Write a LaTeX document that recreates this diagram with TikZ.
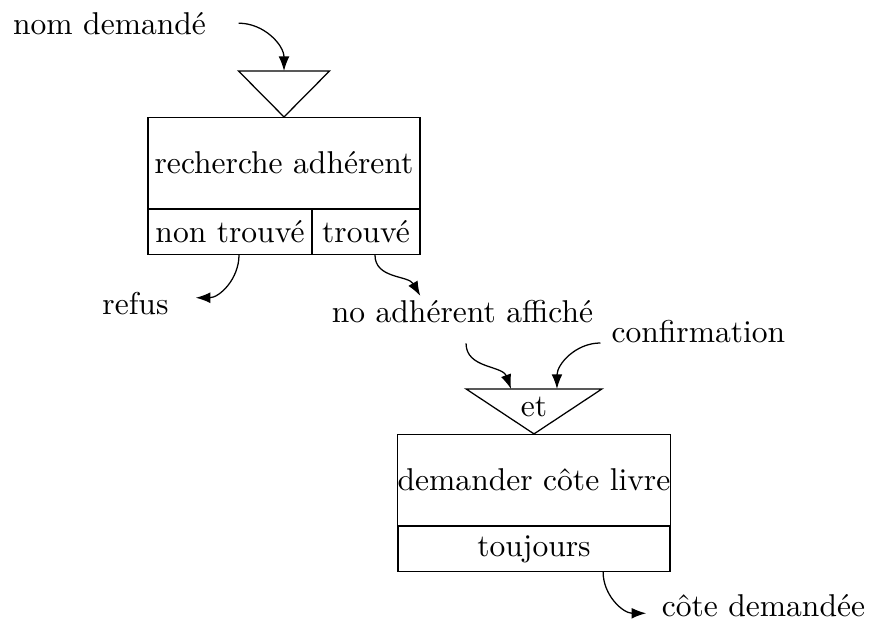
\documentclass[tikz,border=0pt]{standalone}
\usepackage{fontspec}
\usepackage{tikz}
\usetikzlibrary{arrows.meta, positioning}
\tikzstyle{procbox} = [rectangle, draw, minimum width=3.03cm,
                       minimum height=1.01cm, inner xsep=0pt]
\tikzstyle{condbox} = [rectangle, draw, minimum height=0.5cm, inner sep=1pt]
\tikzstyle{msg}     = [anchor=base]
\tikzstyle{arrow}   = [->, >={Latex[length=4.6pt, width=3.4pt]}]

\begin{document}
\begin{tikzpicture}
  \useasboundingbox (0,0) rectangle (9.748,-6.996);

  %% First operation
  \coordinate (tri1) at (3.164,-0.791);
  \node[procbox, below=0.512cm of tri1] (rech) {recherche adh\'erent};
  \node[condbox, minimum width=1.827cm, below=0pt of rech.south west,
        anchor=north west] (ntrouve) {non trouv\'e};
  \node[condbox, minimum width=1.203cm, below=0pt of rech.south east,
        anchor=north east] (trouve) {trouv\'e};
  \draw ([xshift=-0.507cm]tri1) -- ([xshift=0.507cm]tri1) -- (rech.north)
        -- cycle;

  %% Second operation
  \coordinate (tri2) at (5.949,-4.333);
  \node[procbox, below=0.501cm of tri2] (dem) {demander c\^ote livre};
  \node[condbox, minimum width=3.03cm, below=0pt of dem] (touj) {toujours};
  \draw ([xshift=-0.757cm]tri2) -- ([xshift=0.757cm]tri2) -- (dem.north)
        -- cycle;
  \node (et) at ([yshift=-0.2cm]tri2) {et};

  %% Messages
  \node[msg] (nomd)  at (1.220,-0.379) {nom demand\'e};
  \node[msg] (refus) at (1.509,-3.509) {refus};
  \node[msg] (nadh)  at (5.152,-3.598) {no adh\'erent affich\'e};
  \node[msg] (conf)  at (7.781,-3.821) {confirmation};
  \node[msg] (cdem)  at (8.505,-6.873) {c\^ote demand\'ee};

  %% Arrows
  \draw[arrow] ([xshift=0.24cm]nomd.east) to[out=0, in=90] (tri1);
  \draw[arrow] ([xshift=0.1cm]ntrouve.south) to[out=-90, in=0]
        ([xshift=0.18cm, yshift=0.07cm]refus.east);
  \draw[arrow] ([xshift=0.1cm]trouve.south) to[out=-90, in=120]
        ([xshift=-0.47cm, yshift=-0.07cm]nadh.north);
  \draw[arrow] ([xshift=0.04cm, yshift=-0.1cm]nadh.south) to[out=-90, in=110]
        ([xshift=-0.256cm]tri2);
  \draw[arrow] (conf.base west) to[out=180, in=90] ([xshift=0.256cm]tri2);
  \draw[arrow] ([xshift=0.77cm]touj.south) to[out=-90, in=180]
        ([xshift=-0.05cm, yshift=-0.08cm]cdem.west);

\end{tikzpicture}
\end{document}
